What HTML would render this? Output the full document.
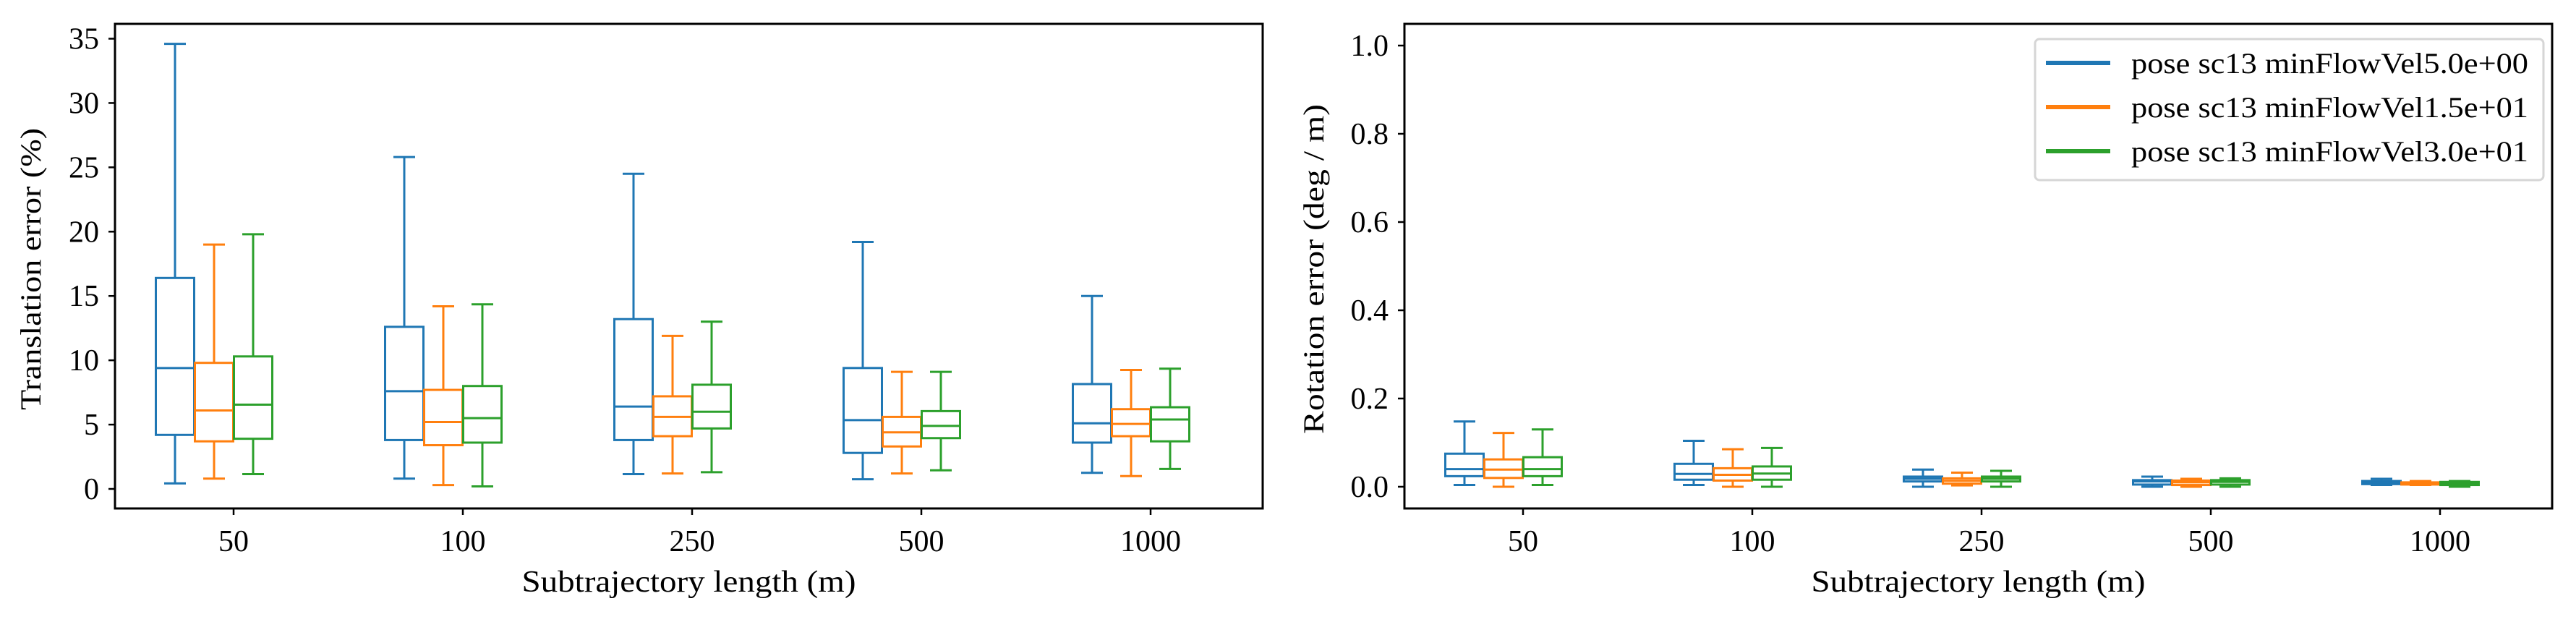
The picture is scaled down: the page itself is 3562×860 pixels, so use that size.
<!DOCTYPE html>
<html><head><meta charset="utf-8"><style>
html,body{margin:0;padding:0;background:#fff;}
svg{display:block;font-family:"Liberation Serif",serif;}
</style></head><body>
<svg id="fig" width="3562" height="860" viewBox="0 0 3562 860" xmlns="http://www.w3.org/2000/svg"></svg>
<script>
const categories = ["50","100","250","500","1000"];
const seriesNames = ["pose sc13 minFlowVel5.0e+00","pose sc13 minFlowVel1.5e+01","pose sc13 minFlowVel3.0e+01"];
const colors = ["#1f77b4","#ff7f0e","#2ca02c"];
// [low whisker, Q1, median, Q3, high whisker] per category
const transBlue   = [[0.43,4.2,9.4,16.4,34.6],[0.8,3.8,7.6,12.6,25.8],[1.15,3.8,6.4,13.2,24.5],[0.75,2.8,5.35,9.4,19.2],[1.25,3.6,5.1,8.15,15.0]];
const transOrange = [[0.8,3.7,6.1,9.8,19.0],[0.3,3.4,5.2,7.7,14.2],[1.2,4.1,5.6,7.2,11.9],[1.2,3.3,4.4,5.6,9.1],[1.0,4.1,5.05,6.2,9.25]];
const transGreen  = [[1.15,3.9,6.55,10.3,19.8],[0.2,3.6,5.5,8.0,14.35],[1.3,4.7,6.0,8.1,13.0],[1.45,3.95,4.9,6.05,9.1],[1.55,3.7,5.4,6.35,9.35]];
const rotBlue   = [[0.004,0.024,0.04,0.075,0.148],[0.004,0.016,0.029,0.052,0.104],[0.0,0.012,0.018,0.023,0.039],[0.0,0.005,0.012,0.015,0.023],[0.004,0.006,0.01,0.013,0.018]];
const rotOrange = [[0.0,0.02,0.039,0.062,0.122],[0.0,0.014,0.027,0.042,0.085],[0.003,0.007,0.0135,0.019,0.032],[0.0,0.004,0.01,0.014,0.018],[0.004,0.005,0.008,0.01,0.013]];
const rotGreen  = [[0.004,0.024,0.04,0.067,0.13],[0.0,0.016,0.03,0.046,0.088],[0.0,0.012,0.018,0.023,0.036],[0.0,0.005,0.011,0.015,0.019],[0.0,0.004,0.007,0.011,0.013]];
const transTicks = [0,5,10,15,20,25,30,35];
const transTickLabels = ["0","5","10","15","20","25","30","35"];
const rotTicks = [0,0.2,0.4,0.6,0.8,1.0];
const rotTickLabels = ["0.0","0.2","0.4","0.6","0.8","1.0"];

const NS="http://www.w3.org/2000/svg";
const svg=document.getElementById('fig');
function mk(tag,attrs,parent){const e=document.createElementNS(NS,tag);for(const k in attrs)e.setAttribute(k,attrs[k]);(parent||svg).appendChild(e);return e;}

function panel(cfg){
  const g=mk('g',{});
  
  
  const y=v=>cfg.y0+(v-cfg.vmin)*(cfg.y1-cfg.y0)/(cfg.vmax-cfg.vmin);
  const x=i=>cfg.x0+i*cfg.step;
  const offsets=[-81,-27,27], bw=53;
  const data=cfg.data;
  data.forEach((ser,s)=>{
    ser.forEach((d,i)=>{
      const cx=x(i)+offsets[s], c=colors[s];
      const bg=mk('g',{stroke:c,'stroke-width':3,fill:'none'},g);
      
      
      mk('rect',{x:cx-bw/2,y:y(d[3]),width:bw,height:Math.max(0.5,y(d[1])-y(d[3]))},bg);
      mk('line',{x1:cx-bw/2,x2:cx+bw/2,y1:y(d[2]),y2:y(d[2])},bg);
      mk('line',{x1:cx,x2:cx,y1:y(d[3]),y2:y(d[4])},bg);
      mk('line',{x1:cx,x2:cx,y1:y(d[1]),y2:y(d[0])},bg);
      mk('line',{x1:cx-15,x2:cx+15,y1:y(d[4]),y2:y(d[4])},bg);
      mk('line',{x1:cx-15,x2:cx+15,y1:y(d[0]),y2:y(d[0])},bg);
    });
  });
  const fr=mk('rect',{x:cfg.L,y:33,width:cfg.R-cfg.L,height:670,fill:'none',stroke:'#000','stroke-width':3},g);
  
  
  cfg.ticks.forEach((t,k)=>{
    mk('line',{x1:cfg.L-9,x2:cfg.L,y1:y(t),y2:y(t),stroke:'#000','stroke-width':2.5},g);
    const tx=mk('text',{x:cfg.L-22,y:y(t)+14,'text-anchor':'end','font-size':42},g);
    tx.textContent=cfg.tickLabels[k];
    
    
  });
  categories.forEach((c,i)=>{
    mk('line',{x1:x(i),x2:x(i),y1:703,y2:712,stroke:'#000','stroke-width':2.5},g);
    const tx=mk('text',{x:x(i),y:762,'text-anchor':'middle','font-size':42},g);
    tx.textContent=c;
    
    
  });
  const xl=mk('text',{x:(cfg.L+cfg.R)/2,y:818,'text-anchor':'middle','font-size':42,textLength:462,lengthAdjust:'spacingAndGlyphs'},g);
  xl.textContent='Subtrajectory length (m)';
  
  
  const yl=mk('text',{x:0,y:0,'text-anchor':'middle','font-size':40,textLength:cfg.ylen,lengthAdjust:'spacingAndGlyphs',transform:`translate(${cfg.ylx},${cfg.ylc}) rotate(-90)`},g);
  yl.textContent=cfg.ylabel;
  
  
}

panel({name:'translation-panel',L:159,R:1746,x0:323,step:317,y0:676,y1:53.5,vmin:0,vmax:35,
  data:[transBlue,transOrange,transGreen],ticks:transTicks,tickLabels:transTickLabels,
  ylabel:'Translation error (%)',ylx:56,ylc:372,ylen:390});
panel({name:'rotation-panel',L:1942,R:3529,x0:2106,step:317,y0:673,y1:63,vmin:0,vmax:1.0,
  data:[rotBlue,rotOrange,rotGreen],ticks:rotTicks,tickLabels:rotTickLabels,
  ylabel:'Rotation error (deg / m)',ylx:1830,ylc:372,ylen:456});

const lg=mk('g',{});


mk('rect',{x:2814,y:54,width:703,height:195,rx:6,fill:'#fff','fill-opacity':0.9,stroke:'#d6d6d6','stroke-width':3},lg);
seriesNames.forEach((n,s)=>{
  const ly=87+s*61;
  const e=mk('g',{},lg);
  
  
  mk('line',{x1:2829,x2:2918,y1:ly,y2:ly,stroke:colors[s],'stroke-width':6},e);
  const t=mk('text',{x:2947,y:ly+14,'font-size':40,textLength:549,lengthAdjust:'spacingAndGlyphs'},e);
  t.textContent=n;
});
</script>
</body></html>
